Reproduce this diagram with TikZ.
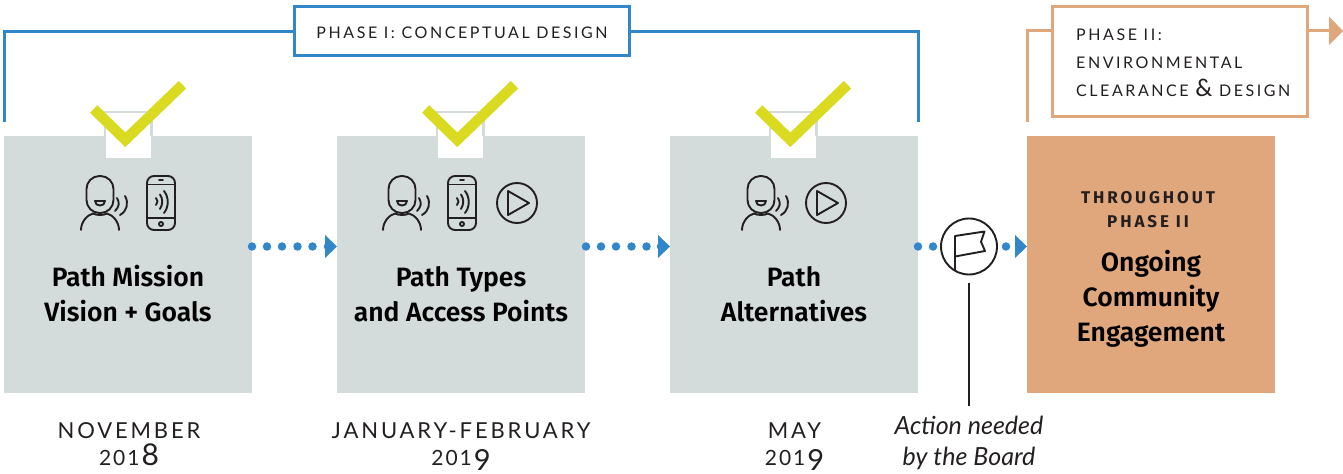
\documentclass[tikz,border=0pt]{standalone}
\usepackage{fontspec}
\setmainfont{Lato}
\newfontfamily\capsfont[LetterSpace=16]{Lato}
\newfontfamily\datefont[LetterSpace=13]{Lato}
\newfontfamily\capsboldfont[UprightFont=* Bold,LetterSpace=17]{Fira Sans}
\newfontfamily\boldfont{Fira Sans}[UprightFont=* Medium,BoldFont=* SemiBold]
\newfontfamily\itfont{Lato}
\usetikzlibrary{arrows.meta}
\definecolor{boxgrey}{HTML}{D4DCDB}
\definecolor{phaseblue}{HTML}{3187C9}
\definecolor{phaseorange}{HTML}{E0A67C}
\definecolor{checkyellow}{HTML}{DADB21}
\definecolor{inkline}{HTML}{231F20}
\newcommand{\lowdig}[3]{{\fontsize{21bp}{29bp}\selectfont #1\kern2bp #2\kern2bp #3\kern2bp}}
\newcommand{\highdig}{{\fontsize{30bp}{29bp}\selectfont\smash{8}}}
\newcommand{\dropdig}{{\fontsize{29bp}{29bp}\selectfont\smash{\raisebox{-4.5bp}{9}}}}
\tikzset{
  x=1bp,y=-1bp,
  greybox/.style={fill=boxgrey,draw=none,minimum width=248bp,minimum height=257bp,inner sep=0pt,outer sep=0pt,anchor=north west},
  orangebox/.style={fill=phaseorange,draw=none,minimum width=248bp,minimum height=257bp,inner sep=0pt,outer sep=0pt,anchor=north west},
  blueline/.style={draw=phaseblue,line width=3bp},
  orangeline/.style={draw=phaseorange,line width=3bp},
  phasebox/.style={draw=phaseblue,line width=3bp,fill=white,inner sep=0pt,outer sep=0pt},
  phasetwobox/.style={draw=phaseorange,line width=3bp,fill=white,inner sep=0pt,outer sep=0pt},
  phasetext/.style={font=\capsfont\fontsize{16bp}{28bp}\selectfont,text=inkline,align=left,inner sep=0pt},
  titletext/.style={font=\boldfont\fontsize{26.5bp}{35bp}\selectfont\bfseries,text=black,align=center,inner sep=0pt},
  datetext/.style={font=\datefont\fontsize{22bp}{27.5bp}\selectfont,text=inkline,align=center,inner sep=0pt},
  icon/.style={draw=inkline,line width=1.9bp,line cap=round,line join=round},
  dotflow/.style={fill=phaseblue,draw=none,circle,minimum size=8.5bp,inner sep=0pt},
  tipflow/.style={fill=phaseblue,draw=none},
  checkmark/.style={draw=checkyellow,line width=10.5bp,line join=miter},
  tab/.style={fill=white,draw=none},
  tabedge/.style={draw=boxgrey,line width=2.5bp}
}
% person icon: origin at top of head centre
\newcommand{\personicon}[2]{%
  \begin{scope}[shift={(#1,#2)}]
    \draw[icon,rounded corners=13bp] (-13.5,0) rectangle (13.5,37);
    \draw[icon] (-19,54) .. controls (-19,46) and (-13,39) .. (-7,37.5) .. controls (-3,39.5) and (3,39.5) .. (7,37.5) .. controls (13,39) and (19,46) .. (19,54);
    \draw[icon] (-5,25) -- (5,25) .. controls (5,31) and (-5,31) .. (-5,25) -- cycle;
    \draw[icon] (17,22) .. controls (20,27) and (19,31) .. (15,35);
    \draw[icon] (25,20) .. controls (29,27) and (27,35) .. (20,39);
  \end{scope}}
% phone icon: origin at top centre
\newcommand{\phoneicon}[2]{%
  \begin{scope}[shift={(#1,#2)}]
    \draw[icon,rounded corners=7bp] (-14,0) rectangle (14,54);
    \draw[icon] (-14,8.5) -- (14,8.5) (-14,42) -- (14,42) (-2,4.2) -- (2,4.2);
    \draw[icon] (0,48) circle[radius=2];
    \draw[icon] (-5,22) .. controls (-3,24) and (-3,27) .. (-5,29);
    \draw[icon] (-1,18.5) .. controls (2,23) and (2,28) .. (-1,33);
    \draw[icon] (3,15) .. controls (8,21) and (8,31) .. (3,37);
  \end{scope}}
% play icon: origin at circle centre
\newcommand{\playicon}[2]{%
  \begin{scope}[shift={(#1,#2)}]
    \draw[icon] (0,0) circle[radius=20];
    \draw[icon] (-9,-12) -- (-9,12) -- (12,0) -- cycle;
  \end{scope}}
% check mark with tab: origin at tab left edge
\newcommand{\checktab}[2]{%
  \begin{scope}[shift={(#1,#2)}]
    \fill[tab] (0,0) rectangle (44.5,46);
    \draw[tabedge] (-1.2,24) -- (-1.2,0) -- (45.7,0) -- (45.7,24);
    \draw[checkmark] (-12.3,-3) -- (19.3,27.8) -- (76.5,-27.3);
  \end{scope}}
\begin{document}
\begin{tikzpicture}
\useasboundingbox (0,0) rectangle (1343,474);
% phase I bracket
\coordinate (bl) at (4,122);
\coordinate (br) at (918,122);
\node[phasebox,minimum width=335bp,minimum height=49bp] (phaseone) at (461.5,31.5) {};
\node[phasetext,anchor=center] (phaseonetext) at (462,33) {PHASE I: CONCEPTUAL DESIGN};
\draw[blueline] (bl) |- (phaseone.west);
\draw[blueline] (br) |- (phaseone.east);
% phase II bracket
\coordinate (ol) at (1027,122);
\node[phasetwobox,anchor=north west,minimum width=254.5bp,minimum height=110.5bp] (phasetwo) at (1052.5,6.5) {};
\node[phasetext,anchor=north west] (phasetwotext) at (1076,28.5) {PHASE II:\\ENVIRONMENTAL\\CLEARANCE {\fontsize{24bp}{24bp}\selectfont\&} DESIGN};
\draw[orangeline] (ol) |- (phasetwo.west |- 0,31);
\draw[orangeline] (phasetwo.east |- 0,31) -- (1330,31);
\fill[phaseorange] (1329,16.5) -- (1343,31) -- (1329,45) -- cycle;
% boxes
\node[greybox] (a) at (4,136) {};
\node[greybox] (b) at (337,136) {};
\node[greybox] (c) at (670,136) {};
\node[orangebox] (d) at (1027,136) {};
\checktab{106}{112}
\checktab{438}{112}
\checktab{771}{112}
% icons
\personicon{100}{176}
\phoneicon{161}{176}
\personicon{402}{176}
\phoneicon{462}{176}
\playicon{517}{203}
\personicon{761}{176}
\playicon{826}{203}
% titles
\node[titletext] (ta) at (128,294) {Path Mission\\Vision + Goals};
\node[titletext] (tb) at (461,294) {Path Types\\and Access Points};
\node[titletext] (tc) at (794,294) {Path\\Alternatives};
\node[titletext] (td) at (1151,299) {Ongoing\\Community\\Engagement};
\node[align=center,inner sep=0pt,text=inkline,font=\capsboldfont\fontsize{17bp}{24bp}\selectfont] (te) at (1148,209.5) {THROUGHOUT\\PHASE II};
% dates
\node[datetext] (da) at (129,444) {NOVEMBER\\\lowdig{2}{0}{1}\highdig};
\node[datetext] (db) at (461,444) {JANUARY-FEBRUARY\\\lowdig{2}{0}{1}\dropdig};
\node[datetext] (dc) at (794.5,444) {MAY\\\lowdig{2}{0}{1}\dropdig};
% dotted flows
\foreach \x in {252,267,282,297.5,312.5,328}{\node[dotflow] at (\x,246.5) {};}
\fill[tipflow] (325,235) -- (337,246.5) -- (325,258) -- cycle;
\foreach \x in {586,601,616,631.5,646.5,661}{\node[dotflow] at (\x,246.5) {};}
\fill[tipflow] (658,235) -- (670,246.5) -- (658,258) -- cycle;
\foreach \x in {918,933,1006}{\node[dotflow] at (\x,246.5) {};}
\fill[tipflow] (1015,235) -- (1027,246.5) -- (1015,258) -- cycle;
% flag
\node[circle,draw=inkline,line width=1.9bp,fill=white,minimum size=56bp,inner sep=0pt,outer sep=0pt] (flag) at (969,246.5) {};
\draw[icon] (955,270) -- (955,236) -- (984.5,231.5) -- (981,241.7) -- (985,251) -- (955,256.5);
\coordinate (flagfoot) at (969,406);
\draw[draw=inkline,line width=2bp] (969,283) -- (flagfoot);
\node[font=\itfont\fontsize{25bp}{31bp}\selectfont\itshape,align=center,text=inkline,inner sep=0pt] (act) at (969,442.5) {Action needed\\by the Board};
\end{tikzpicture}
\end{document}
